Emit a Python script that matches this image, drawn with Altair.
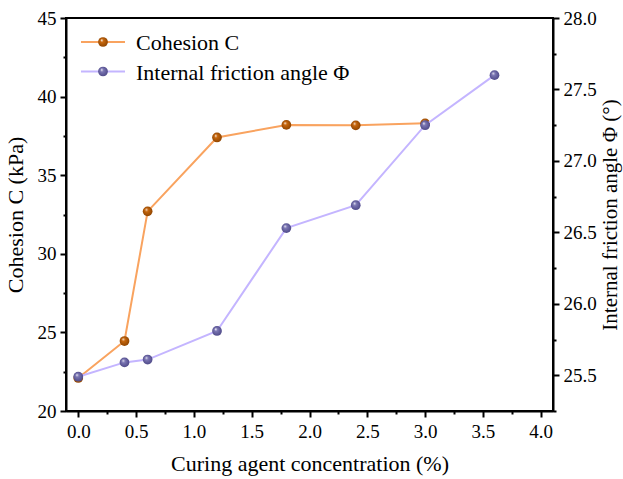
import altair as alt
import pandas as pd

# Curing agent concentration (%)
conc = [0.0, 0.4, 0.6, 1.2, 1.8, 2.4, 3.0, 3.6]
# Cohesion C (kPa); no test at 3.6 %
cohesion = [22.1, 24.45, 32.7, 37.4, 38.2, 38.17, 38.3, None]
# Internal friction angle (degrees)
friction = [25.49, 25.59, 25.61, 25.81, 26.53, 26.69, 27.25, 27.6]

legend_labels = ["Cohesion C", "Internal friction angle \u03a6"]

FONT = "Liberation Serif"
ORANGE_LINE = "#F9A35F"
ORANGE_DOT = "#C8680E"
PURPLE_LINE = "#C4B5FF"
PURPLE_DOT = "#7C77B4"

df = pd.DataFrame({"conc": conc, "cohesion": cohesion, "friction": friction})
coh_df = df.dropna(subset=["cohesion"])


def ball(color, dark):
    # shaded sphere look for the markers
    return alt.RadialGradient(
        gradient="radial",
        x1=0.35, y1=0.3, r1=0.0,
        x2=0.5, y2=0.5, r2=0.55,
        stops=[
            alt.GradientStop(offset=0.0, color="#ffffff"),
            alt.GradientStop(offset=0.3, color=color),
            alt.GradientStop(offset=1.0, color=dark),
        ],
    )


def minor_test(step):
    return f"abs(datum.value / {step} - round(datum.value / {step})) > 0.001"


x_axis = alt.Axis(
    values=[i * 0.25 for i in range(17)],
    labelExpr=f"{minor_test(0.5)} ? '' : format(datum.value, '.1f')",
    tickSize={"condition": {"test": minor_test(0.5), "value": 3}, "value": 6},
    title="Curing agent concentration (%)",
    titlePadding=12,
    labelPadding=5,
)
x_enc = alt.X("conc:Q", scale=alt.Scale(domain=[-0.106, 4.106], nice=False, zero=False), axis=x_axis)

left_axis = alt.Axis(
    values=[20 + i * 2.5 for i in range(11)],
    labelExpr=f"{minor_test(5)} ? '' : format(datum.value, 'd')",
    tickSize={"condition": {"test": minor_test(5), "value": 3}, "value": 6},
    title="Cohesion C (kPa)",
    titlePadding=10,
    labelPadding=4,
)
right_axis = alt.Axis(
    orient="right",
    values=[25.25 + i * 0.25 for i in range(12)],
    labelExpr=f"{minor_test(0.5)} ? '' : format(datum.value, '.1f')",
    tickSize={"condition": {"test": minor_test(0.5), "value": 3}, "value": 6},
    title="Internal friction angle \u03a6 (\u00b0)",
    titleAngle=270,
    titleBaseline="top",
    titlePadding=3,
    titleFontSize=21,
    labelPadding=4,
)

coh_y = alt.Y("cohesion:Q", scale=alt.Scale(domain=[20, 45], nice=False, zero=False), axis=left_axis)
fri_y = alt.Y("friction:Q", scale=alt.Scale(domain=[25.25, 28.0], nice=False, zero=False), axis=right_axis)

coh_base = alt.Chart(coh_df).encode(x=x_enc, y=coh_y)
coh_layer = alt.layer(
    coh_base.mark_line(color=ORANGE_LINE, strokeWidth=2),
    coh_base.mark_point(filled=True, size=95, opacity=1, fill=ball(ORANGE_DOT, "#8a4200"), strokeWidth=0),
)

fri_base = alt.Chart(df).encode(x=x_enc, y=fri_y)
fri_layer = alt.layer(
    fri_base.mark_line(color=PURPLE_LINE, strokeWidth=2),
    fri_base.mark_point(filled=True, size=95, opacity=1, fill=ball(PURPLE_DOT, "#4b4685"), strokeWidth=0),
)

# hand-built legend in the upper-left corner of the plot
leg_df = pd.DataFrame({"label": legend_labels})


def legend_entry(i, line_color, dot_fill):
    y = 24 + 29.5 * i
    src = alt.Chart(leg_df).transform_filter(f"datum.label == '{legend_labels[i]}'")
    seg = src.mark_rule(color=line_color, strokeWidth=2).encode(
        x=alt.value(15), x2=alt.value(59), y=alt.value(y)
    )
    dot = src.mark_point(filled=True, size=95, opacity=1, fill=dot_fill, strokeWidth=0).encode(
        x=alt.value(37), y=alt.value(y)
    )
    txt = src.mark_text(align="left", baseline="middle", font=FONT, fontSize=22, color="black").encode(
        x=alt.value(70), y=alt.value(y + 1), text="label:N"
    )
    return seg + dot + txt


legend = alt.layer(
    legend_entry(0, ORANGE_LINE, ball(ORANGE_DOT, "#8a4200")),
    legend_entry(1, PURPLE_LINE, ball(PURPLE_DOT, "#4b4685")),
)

chart = (
    alt.layer(coh_layer, fri_layer, legend)
    .resolve_scale(y="independent")
    .properties(
        width=487,
        height=393,
        autosize=alt.AutoSizeParams(type="none"),
        padding={"left": 66, "top": 18, "right": 70, "bottom": 68},
        background="white",
    )
    .configure_view(stroke="black", strokeWidth=2)
    .configure_axis(
        grid=False,
        domainColor="black",
        domainWidth=2,
        tickColor="black",
        tickWidth=2,
        labelFont=FONT,
        labelFontSize=19,
        labelColor="black",
        titleFont=FONT,
        titleFontSize=22,
        titleFontWeight="normal",
        titleColor="black",
    )
)

chart.save("out.html", embed_options={"renderer": "svg", "actions": False})
